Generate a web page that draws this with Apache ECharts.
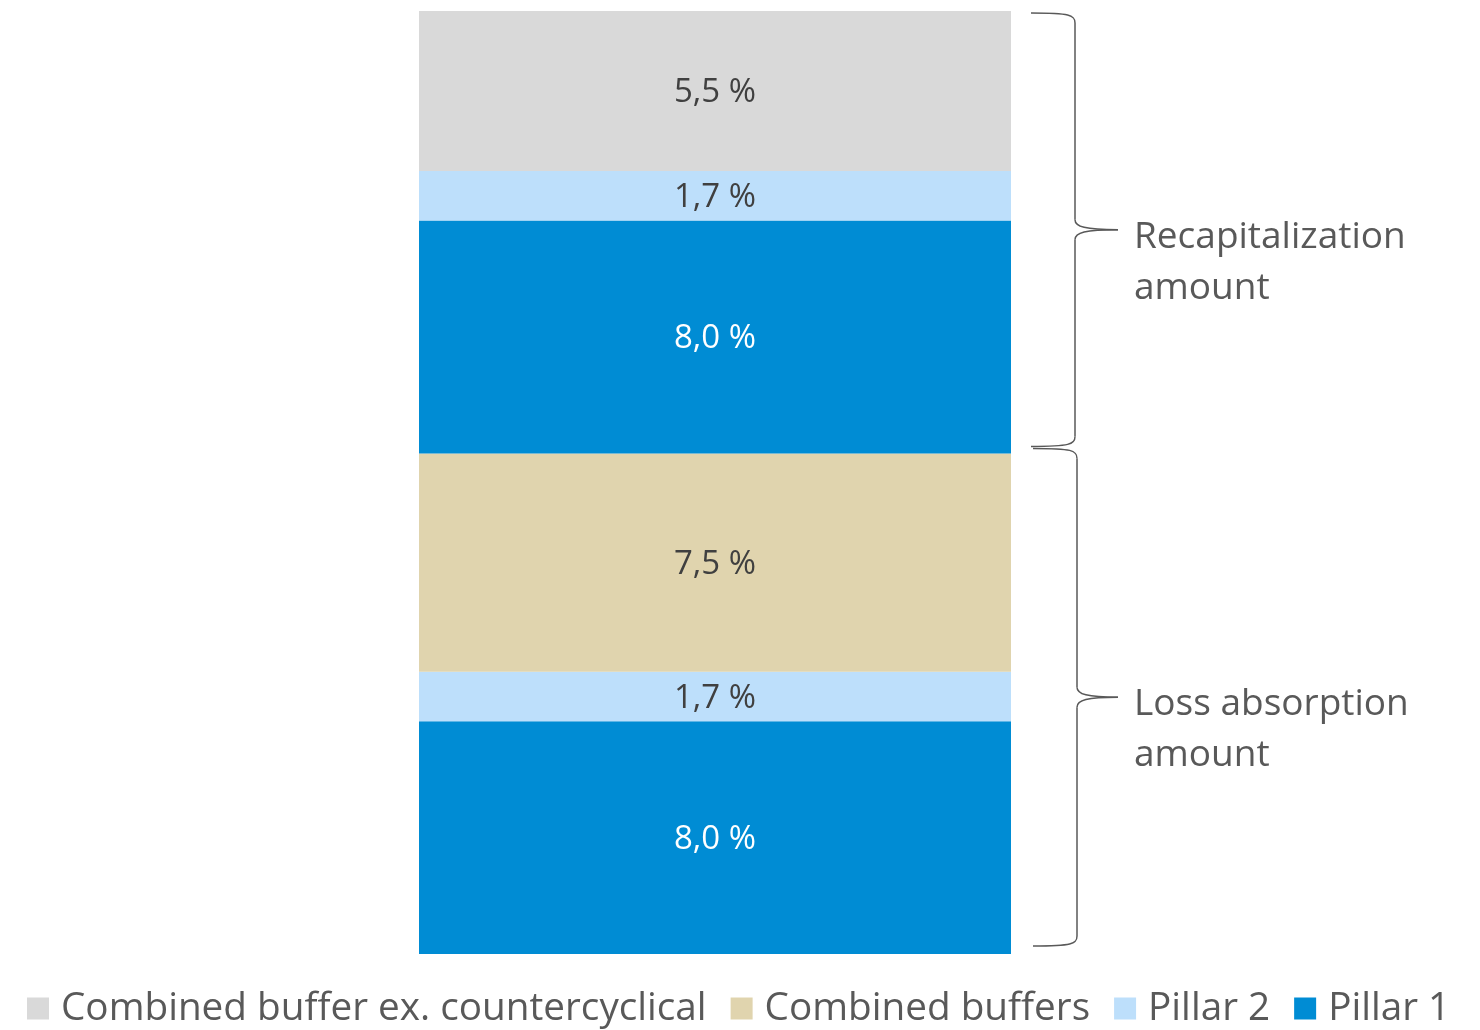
<!DOCTYPE html>
<html><head><meta charset="utf-8">
<script src="https://cdn.jsdelivr.net/npm/echarts@6/dist/echarts.min.js"></script>
<style>html,body{margin:0;padding:0;background:#fff}#c{width:1480px;height:1030px}</style>
</head><body><div id="c"></div>
<script>
const categories = ['Requirement'];
const seriesNames = ['Pillar 1', 'Pillar 2', 'Combined buffers', 'Pillar 1', 'Pillar 2', 'Combined buffer ex. countercyclical'];
const seriesValues = [8.0, 1.7, 7.5, 8.0, 1.7, 5.5];
const seriesColors = ['#008CD4', '#BDDFFB', '#E0D4AE', '#008CD4', '#BDDFFB', '#D9D9D9'];
const labelColors = ['#FFFFFF', '#404040', '#404040', '#FFFFFF', '#404040', '#404040'];
const legendNames = ['Combined buffer ex. countercyclical', 'Combined buffers', 'Pillar 2', 'Pillar 1'];
const braceGroups = [
  { text: 'Recapitalization\namount', from: 17.2, to: 32.4 },
  { text: 'Loss absorption\namount', from: 0, to: 17.2 }
];
const total = seriesValues.reduce((a, b) => a + b, 0);

const chart = echarts.init(document.getElementById('c'));
const FONT = 'Open Sans';
chart.setOption({
  animation: false,
  grid: { left: 419, right: 469, top: 11, bottom: 76 },
  xAxis: { type: 'category', data: categories, show: false },
  yAxis: { type: 'value', min: 0, max: total, show: false, splitLine: { show: false } },
  legend: {
    data: legendNames, left: 22, bottom: -3, itemWidth: 22, itemHeight: 22, itemGap: 24,
    icon: 'rect',
    textStyle: { fontFamily: FONT, fontSize: 38.7, color: '#595959', padding: [0, 0, 0, 7] }
  },
  series: seriesValues.map((v, i) => ({
    name: seriesNames[i], type: 'bar', stack: 'total', barWidth: '100%',
    data: [v],
    itemStyle: { color: seriesColors[i] },
    label: {
      show: true, position: 'inside', offset: [0, 2],
      formatter: p => p.value.toFixed(1).replace('.', ',') + ' %',
      fontFamily: FONT, fontSize: 33, color: labelColors[i]
    },
    emphasis: { disabled: true }
  }))
});

const lineStyle = { fill: null, stroke: '#595959', lineWidth: 1.5 };
function braceParts(x0, xv, xt, yT, yB, yM) {
  const r = 10;
  return [
    { type: 'bezierCurve', shape: { x1: x0, y1: yT, cpx1: xv - 5, cpy1: yT, cpx2: xv, cpy2: yT + 2, x2: xv, y2: yT + r }, style: lineStyle },
    { type: 'line', shape: { x1: xv, y1: yT + r, x2: xv, y2: yM - r }, style: lineStyle },
    { type: 'bezierCurve', shape: { x1: xv, y1: yM - r, cpx1: xv, cpy1: yM - 3, cpx2: xv + 10, cpy2: yM, x2: xt, y2: yM }, style: lineStyle },
    { type: 'bezierCurve', shape: { x1: xt, y1: yM, cpx1: xv + 10, cpy1: yM, cpx2: xv, cpy2: yM + 3, x2: xv, y2: yM + r }, style: lineStyle },
    { type: 'line', shape: { x1: xv, y1: yM + r, x2: xv, y2: yB - r }, style: lineStyle },
    { type: 'bezierCurve', shape: { x1: xv, y1: yB - r, cpx1: xv, cpy1: yB - 2, cpx2: xv - 5, cpy2: yB, x2: x0, y2: yB }, style: lineStyle }
  ];
}
let graphics = [];
braceGroups.forEach((g, k) => {
  const yT = chart.convertToPixel({ yAxisIndex: 0 }, g.to) + (k === 0 ? 2 : -5);
  const yB = chart.convertToPixel({ yAxisIndex: 0 }, g.from) + (k === 0 ? -7 : -8);
  const yM = (yT + yB) / 2;
  const xv = k === 0 ? 1075 : 1077;
  graphics = graphics.concat(braceParts(k === 0 ? 1031 : 1033, xv, 1118, yT, yB, yM));
  graphics.push({
    type: 'text', left: 1134, top: yM - 18,
    style: { text: g.text, fontFamily: FONT, fontSize: 37, fill: '#595959', lineHeight: 51 }
  });
});
chart.setOption({ graphic: graphics });
</script></body></html>
